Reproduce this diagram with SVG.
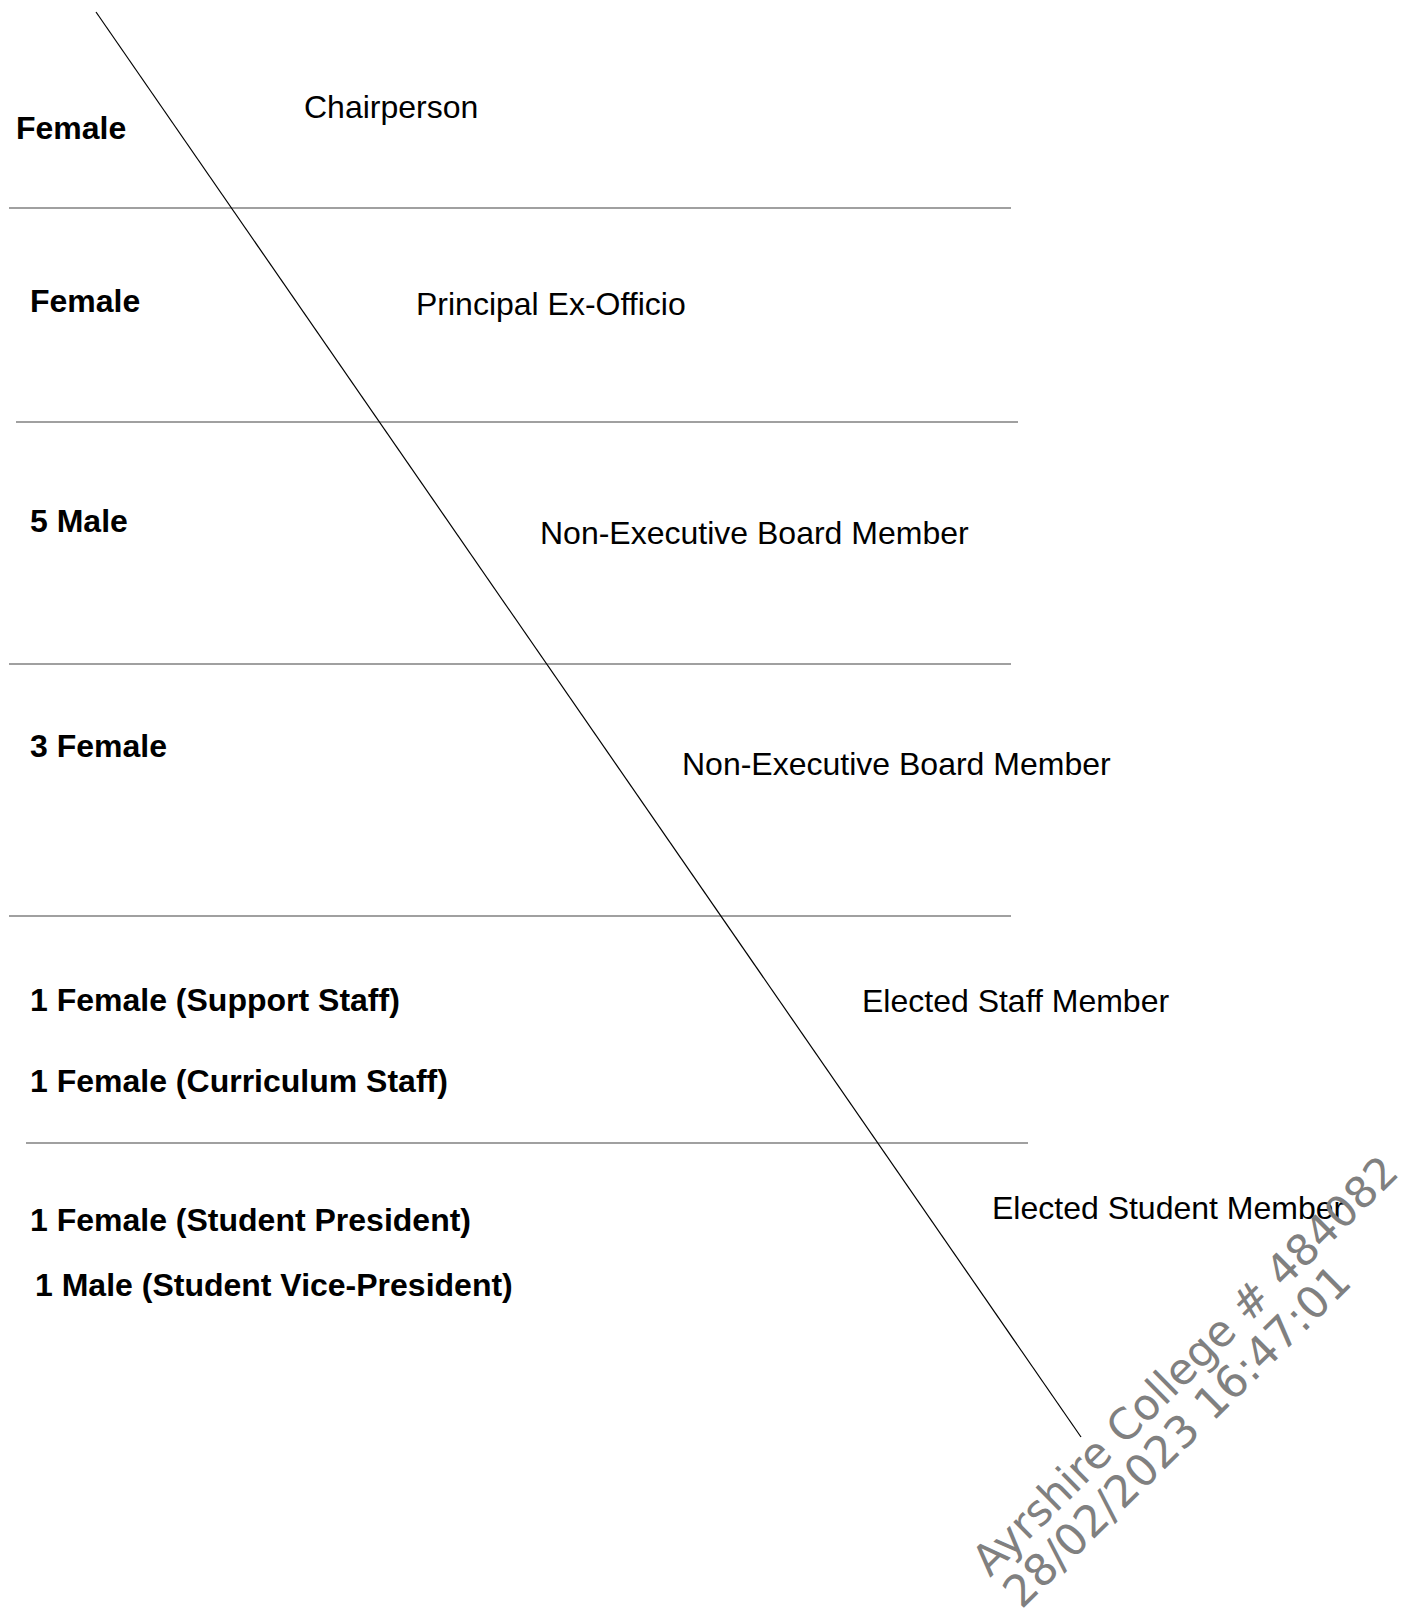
<svg xmlns="http://www.w3.org/2000/svg" width="1415" height="1621" viewBox="0 0 1415 1621">
<style>
.b{font-family:"Liberation Sans",Arial,sans-serif;font-size:32px;font-weight:bold;fill:#000}
.r{font-family:"Liberation Sans",Arial,sans-serif;font-size:32px;fill:#000}
.h{stroke:#808080;stroke-width:1.5;fill:none}
.d{stroke:#000;stroke-width:1.2;fill:none}
.w{font-family:"DejaVu Sans",Verdana,sans-serif;font-size:43px;fill:#808080}
</style>
<rect width="1415" height="1621" fill="#fff"/>
<g id="connectors">
<line class="h" x1="9" y1="208" x2="1011" y2="208"/>
<line class="h" x1="16" y1="422" x2="1018" y2="422"/>
<line class="h" x1="9" y1="664" x2="1011" y2="664"/>
<line class="h" x1="9" y1="916" x2="1011" y2="916"/>
<line class="h" x1="26" y1="1143" x2="1028" y2="1143"/>
<line class="d" x1="96" y1="12" x2="1081" y2="1437"/>
</g>
<g id="row1"><text class="b" x="16" y="139">Female</text><text class="r" x="304" y="118">Chairperson</text></g>
<g id="row2"><text class="b" x="30" y="312">Female</text><text class="r" x="416" y="315">Principal Ex-Officio</text></g>
<g id="row3"><text class="b" x="30" y="532">5 Male</text><text class="r" x="540" y="544">Non-Executive Board Member</text></g>
<g id="row4"><text class="b" x="30" y="757">3 Female</text><text class="r" x="682" y="775">Non-Executive Board Member</text></g>
<g id="row5"><text class="b" x="30" y="1011">1 Female (Support Staff)</text><text class="b" x="30" y="1092">1 Female (Curriculum Staff)</text><text class="r" x="862" y="1012">Elected Staff Member</text></g>
<g id="row6"><text class="b" x="30" y="1231">1 Female (Student President)</text><text class="b" x="35" y="1296">1 Male (Student Vice-President)</text><text class="r" x="992" y="1219">Elected Student Member</text></g>
<g id="watermark" transform="translate(990,1578) rotate(-44.5)">
<text class="w" x="0" y="0">Ayrshire College # 484082</text>
<text class="w" x="0" y="45" style="font-size:44px">28/02/2023 16:47:01</text>
</g>
</svg>
